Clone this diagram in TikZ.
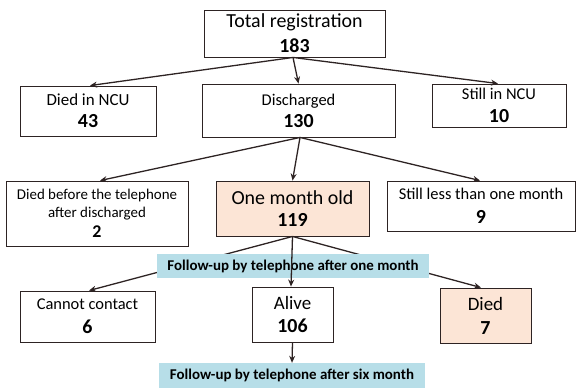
\documentclass[tikz,border=0pt]{standalone}
\usepackage{fontspec}
\setmainfont{Carlito}
\usetikzlibrary{arrows.meta}
\definecolor{peach}{RGB}{252,229,214}
\definecolor{banner}{RGB}{183,222,232}
\definecolor{edge}{RGB}{45,35,35}
\newcommand{\lab}[2]{#1\\{\fontsize{20}{20}\selectfont\bfseries #2}}
\tikzset{
  box/.style={draw=edge, line width=0.9pt, fill=white, align=center, inner sep=0pt},
  peachbox/.style={box, fill=peach},
  fs/.style 2 args={font=\fontsize{#1}{#2}\selectfont},
  bannerbox/.style={fill=banner, inner sep=0pt, align=center, font=\fontsize{15}{16}\selectfont\bfseries},
  link/.style={draw=edge, line width=1.3pt, -{Stealth[length=7pt,width=6pt]}}
}
\begin{document}
\begin{tikzpicture}[x=1bp,y=-1bp]
\useasboundingbox (0,0) rectangle (576,388);
\node[box, fs={20}{25}, minimum width=181bp, minimum height=47bp] (tot) at (294.5,33.5) {\lab{Total registration}{183}};
\node[box, fs={17}{22}, minimum width=136bp, minimum height=50bp] (dncu) at (88,111) {\lab{Died in NCU}{43}};
\node[box, fs={16.5}{22}, minimum width=193bp, minimum height=53bp] (dis) at (298.5,110.5) {\lab{Discharged}{130}};
\node[box, fs={16.5}{23}, minimum width=134bp, minimum height=43bp] (sncu) at (499,105.5) {\lab{Still in NCU}{10}};
\node[box, fs={15}{18}, minimum width=182bp, minimum height=65bp] (dbt) at (97,213.5) {Died before the telephone\\after discharged\\[2pt]{\fontsize{18}{18}\selectfont\bfseries 2}};
\node[peachbox, fs={20}{22}, minimum width=153bp, minimum height=55bp] (omo) at (292.5,208.5) {\lab{One month old}{119}};
\node[box, fs={16.5}{24}, minimum width=188bp, minimum height=50bp] (sl) at (481,206) {\lab{Still less than one month}{9}};
\node[box, fs={16.5}{24}, minimum width=135bp, minimum height=51bp] (cc) at (87.5,316.5) {\lab{Cannot contact}{6}};
\node[box, fs={19}{24}, minimum width=81bp, minimum height=55bp] (alv) at (292.5,314.5) {\lab{Alive}{106}};
\node[peachbox, fs={19}{24}, minimum width=91bp, minimum height=55bp] (died) at (485.5,315.5) {\lab{Died}{7}};
\draw[link] ([xshift=-1.5bp]tot.south) -- ([xshift=2bp]dncu.north);
\draw[link] ([xshift=-1.5bp]tot.south) -- (dis.north);
\draw[link] ([xshift=-1.5bp]tot.south) -- ([xshift=-1bp]sncu.north);
\draw[link] ([xshift=1.5bp]dis.south) -- ([xshift=3bp]dbt.north);
\draw[link] ([xshift=1.5bp]dis.south) -- (omo.north);
\draw[link] ([xshift=1.5bp]dis.south) -- ([xshift=-1bp]sl.north);
\draw[link] (omo.south) -- ([xshift=1.5bp]cc.north);
\draw[link] (omo.south) -- ([xshift=-4.5bp]died.north);
\node[bannerbox, minimum width=272bp, minimum height=24bp] (b1) at (293,266) {Follow-up by telephone after one month};
\draw[link] (omo.south) -- ([xshift=-1.5bp]alv.north);
\node[bannerbox, minimum width=266bp, minimum height=25bp] (b2) at (292,375.5) {Follow-up by telephone after six month};
\draw[link] (alv.south) -- (b2.north);
\end{tikzpicture}
\end{document}
